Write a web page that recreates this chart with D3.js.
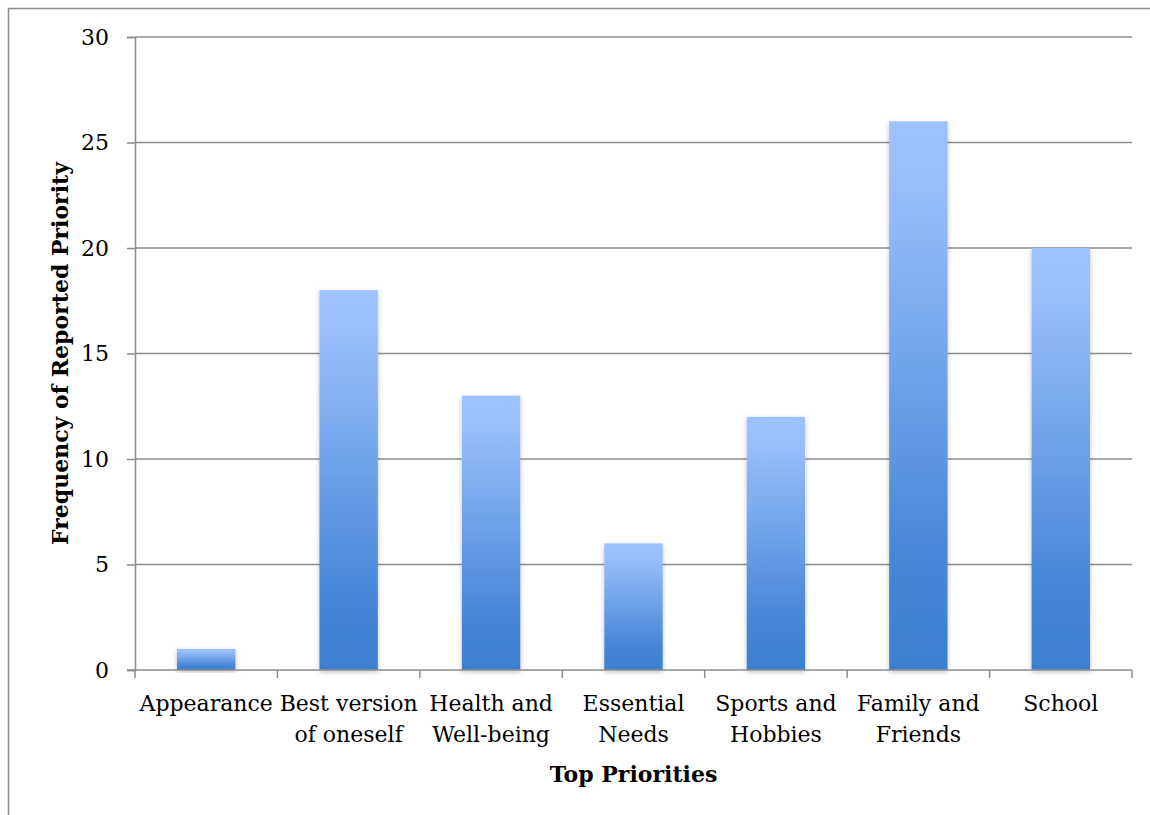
<html>
<head>
<script src="https://d3js.org/d3.v7.min.js"></script>
<style>
  body { margin: 0; background: #fff; }
  svg text { font-family: "DejaVu Serif", "Liberation Serif", serif; fill: #000; }
</style>
</head>
<body>
<svg width="1150" height="815"></svg>
<script>
var categories = [["Appearance"], ["Best version", "of oneself"], ["Health and", "Well-being"],
                  ["Essential", "Needs"], ["Sports and", "Hobbies"], ["Family and", "Friends"], ["School"]];
var values = [1, 18, 13, 6, 12, 26, 20];
var yTicks = [0, 5, 10, 15, 20, 25, 30];

var svg = d3.select("svg");
var plotLeft = 135, plotRight = 1132, plotTop = 37, plotBottom = 670;

// outer chart frame (only top and left visible)
svg.append("rect").attr("x", 8.5).attr("y", 8.5).attr("width", 1200).attr("height", 900)
   .attr("fill", "none").attr("stroke", "#8c8c8c").attr("stroke-width", 1.5);

var defs = svg.append("defs");
var grad = defs.append("linearGradient").attr("id", "barGrad")
   .attr("x1", 0).attr("y1", 0).attr("x2", 0).attr("y2", 1);
grad.append("stop").attr("offset", "0").attr("stop-color", "#9cc2ff");
grad.append("stop").attr("offset", "0.12").attr("stop-color", "#98befb");
grad.append("stop").attr("offset", "0.8").attr("stop-color", "#4786d6");
grad.append("stop").attr("offset", "1").attr("stop-color", "#3d7fcf");
var f = defs.append("filter").attr("id", "shadow").attr("x", "-20%").attr("y", "-10%")
   .attr("width", "140%").attr("height", "120%");
f.append("feDropShadow").attr("dx", 0).attr("dy", 2).attr("stdDeviation", 2.5)
   .attr("flood-color", "#000").attr("flood-opacity", 0.25);

var x = d3.scaleBand().domain(d3.range(categories.length)).range([plotLeft, plotRight])
   .paddingInner(0.59).paddingOuter(0.295);
var y = d3.scaleLinear().domain([0, 30]).range([plotBottom, plotTop]);

// gridlines
svg.append("g").selectAll("line").data(yTicks.slice(1)).enter().append("line")
   .attr("x1", plotLeft).attr("x2", plotRight)
   .attr("y1", function(d) { return y(d); }).attr("y2", function(d) { return y(d); })
   .attr("stroke", "#8c8c8c").attr("stroke-width", 1.5);

// y axis
var ya = svg.append("g").attr("transform", "translate(" + plotLeft + ",0)")
   .call(d3.axisLeft(y).tickValues(yTicks).tickSize(8).tickPadding(18));
ya.select(".domain").attr("stroke", "#8c8c8c").attr("stroke-width", 1.5);
ya.selectAll(".tick line").attr("stroke", "#8c8c8c").attr("stroke-width", 1.5);
ya.selectAll(".tick text").attr("font-size", 22).attr("font-family", "DejaVu Serif");

// bars
svg.append("g").selectAll("rect").data(values).enter().append("rect")
   .attr("x", function(d, i) { return x(i); })
   .attr("y", function(d) { return y(d); })
   .attr("width", x.bandwidth())
   .attr("height", function(d) { return plotBottom - y(d); })
   .attr("fill", "url(#barGrad)")
   .attr("filter", "url(#shadow)");

// x axis
var step = x.step();
var xb = svg.append("g");
xb.append("line").attr("x1", plotLeft - 8).attr("x2", plotRight).attr("y1", plotBottom).attr("y2", plotBottom)
   .attr("stroke", "#8c8c8c").attr("stroke-width", 1.5);
xb.selectAll(".tk").data(d3.range(categories.length + 1)).enter().append("line")
   .attr("x1", function(i) { return plotLeft + i * step; }).attr("x2", function(i) { return plotLeft + i * step; })
   .attr("y1", plotBottom).attr("y2", plotBottom + 8)
   .attr("stroke", "#8c8c8c").attr("stroke-width", 1.5);

var lbl = xb.selectAll(".lbl").data(categories).enter().append("text")
   .attr("text-anchor", "middle").attr("font-size", 22)
   .attr("transform", function(d, i) { return "translate(" + (x(i) + x.bandwidth() / 2) + "," + 711 + ")"; });
lbl.selectAll("tspan").data(function(d) { return d; }).enter().append("tspan")
   .attr("x", 0).attr("y", function(d, j) { return j * 31; })
   .text(function(d) { return d; });

// axis titles
svg.append("text").attr("x", (plotLeft + plotRight) / 2).attr("y", 782).attr("text-anchor", "middle")
   .attr("font-size", 22).attr("font-weight", "bold").text("Top Priorities");
svg.append("text").attr("transform", "translate(68," + ((plotTop + plotBottom) / 2) + ") rotate(-90)")
   .attr("text-anchor", "middle").attr("font-size", 22).attr("font-weight", "bold")
   .text("Frequency of Reported Priority");
</script>
</body>
</html>
